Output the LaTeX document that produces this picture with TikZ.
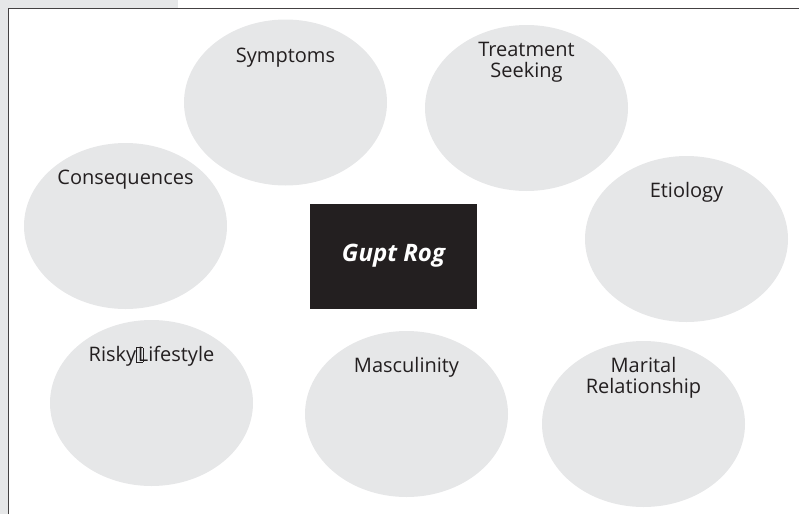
\documentclass[tikz,border=0pt]{standalone}
\usepackage{fontspec}
\setmainfont{Open Sans}
\usepackage{tikz}
\usetikzlibrary{shapes,positioning}

\definecolor{bubblegray}{HTML}{E6E7E8}
\definecolor{inkdark}{HTML}{231F20}
\newcommand{\boxglyph}{{\setlength{\fboxsep}{0pt}\setlength{\fboxrule}{0.6pt}\fbox{\rule{0pt}{14pt}\hspace{6pt}}}\kern-5.5pt}

\begin{document}
\begin{tikzpicture}[x=1pt,y=-1pt,
  bubble/.style={ellipse,fill=bubblegray,minimum width=203pt,minimum height=166pt,inner sep=0pt},
  lbl/.style={font=\fontsize{20}{21}\selectfont,text=inkdark,align=center,inner sep=0pt,anchor=base},
  core/.style={fill=inkdark,minimum width=167pt,minimum height=105pt,inner sep=0pt,text=white,font=\fontsize{24}{26}\selectfont\bfseries\itshape}]
  \useasboundingbox (0,0) rectangle (799,514);
  \fill[bubblegray] (0,0) rectangle (178,8);
  \fill[bubblegray] (0,0) rectangle (8,514);
  \draw[line width=1.4pt,inkdark!85] (8.5,514) -- (8.5,8.5) -- (799,8.5);

  \node[bubble] (symp) at (285.5,102.5) {};
  \node[bubble] (treat) at (526.5,108) {};
  \node[bubble] (conseq) at (125.5,226) {};
  \node[bubble] (etio) at (686.5,239) {};
  \node[bubble] (risky) at (151.5,403) {};
  \node[bubble] (masc) at (406.5,414) {};
  \node[bubble] (marital) at (643.5,424) {};

  \node[lbl] (symptxt) at ([yshift=-43pt]symp.north) {Symptoms};
  \node[lbl] (treattxt) at ([yshift=-53pt]treat.north) {Treatment\\Seeking};
  \node[lbl] (conseqtxt) at ([yshift=-42pt]conseq.north) {Consequences};
  \node[lbl] (etiotxt) at ([yshift=-42pt]etio.north) {Etiology};
  \node[lbl] (riskytxt) at ([yshift=-42pt]risky.north) {Risky\boxglyph Lifestyle};
  \node[lbl] (masctxt) at ([yshift=-42pt]masc.north) {Masculinity};
  \node[lbl] (maritaltxt) at ([yshift=-53pt]marital.north) {Marital\\Relationship};

  \node[core] (gupt) at (393.5,256) {Gupt Rog};
\end{tikzpicture}
\end{document}
